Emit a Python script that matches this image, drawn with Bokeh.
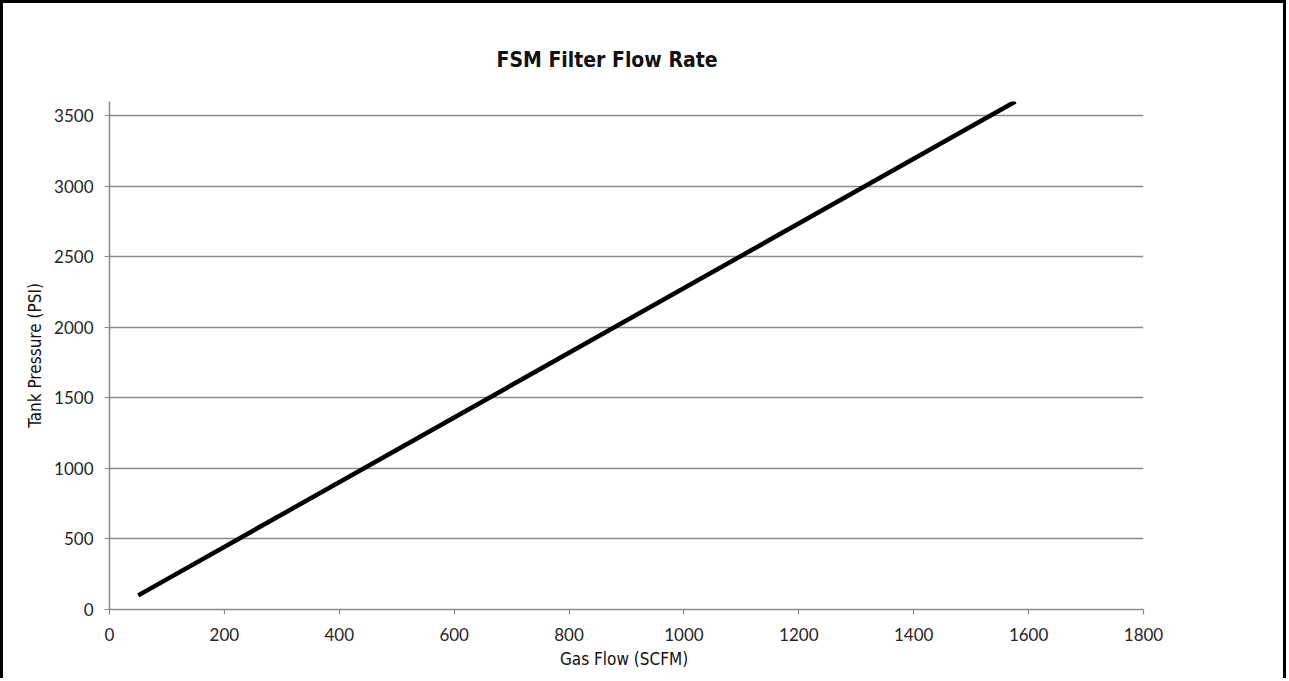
from bokeh.plotting import figure
from bokeh.models import Range1d, FixedTicker
from bokeh.embed import file_html
from bokeh.resources import INLINE

# Data
gas_flow = [50, 1577]          # SCFM
tank_pressure = [100, 3600]    # PSI

x_ticks = [0, 200, 400, 600, 800, 1000, 1200, 1400, 1600, 1800]
y_ticks = [0, 500, 1000, 1500, 2000, 2500, 3000, 3500]

title_text = "FSM Filter Flow Rate"
x_label = "Gas Flow  (SCFM)"
y_label = "Tank Pressure (PSI)"

GRAY = "#8a8a8a"
TXT = "#262626"
NARROW = "DejaVu Sans Condensed"

p = figure(
    output_backend="svg", toolbar_location=None,
    frame_width=1034, frame_height=508,
    min_border_left=106, min_border_right=140,
    min_border_top=98, min_border_bottom=69,
    x_range=Range1d(0, 1800), y_range=Range1d(0, 3600),
    title=title_text,
)
p.outline_line_color = None
p.background_fill_color = "white"
p.border_fill_color = "white"
p.styles = {"border-left": "3px solid black", "border-top": "3px solid black",
            "border-right": "3px solid black"}

p.title.text_font = NARROW
p.title.text_font_style = "bold"
p.title.text_font_size = "21px"
p.title.text_color = "#111111"
p.title.align = "left"
p.title.offset = 387
p.title.standoff = 60

p.line(gas_flow, tank_pressure, line_color="black", line_width=4.5)

for ax in (p.xaxis, p.yaxis):
    ax.axis_line_color = GRAY
    ax.axis_line_width = 1.5
    ax.major_tick_line_color = GRAY
    ax.major_tick_line_width = 1.2
    ax.major_tick_in = 0
    ax.major_tick_out = 5
    ax.minor_tick_line_color = None
    ax.major_label_text_font = "Lato"
    ax.major_label_text_font_size = "17px"
    ax.major_label_text_color = TXT
    ax.axis_label_text_font = NARROW
    ax.axis_label_text_font_size = "17px"
    ax.axis_label_text_font_style = "normal"
    ax.axis_label_text_color = "#111111"

p.xaxis.ticker = FixedTicker(ticks=x_ticks)
p.yaxis.ticker = FixedTicker(ticks=y_ticks)
p.xaxis.axis_label = x_label
p.yaxis.axis_label = y_label
p.xaxis.major_label_standoff = 13
p.yaxis.major_label_standoff = 11
p.xaxis.axis_label_standoff = 5
p.yaxis.axis_label_standoff = 6

p.xgrid.grid_line_color = None
p.ygrid.ticker = FixedTicker(ticks=y_ticks)
p.ygrid.grid_line_color = GRAY
p.ygrid.grid_line_width = 1.4

open("out.html", "w").write(file_html(p, INLINE))
